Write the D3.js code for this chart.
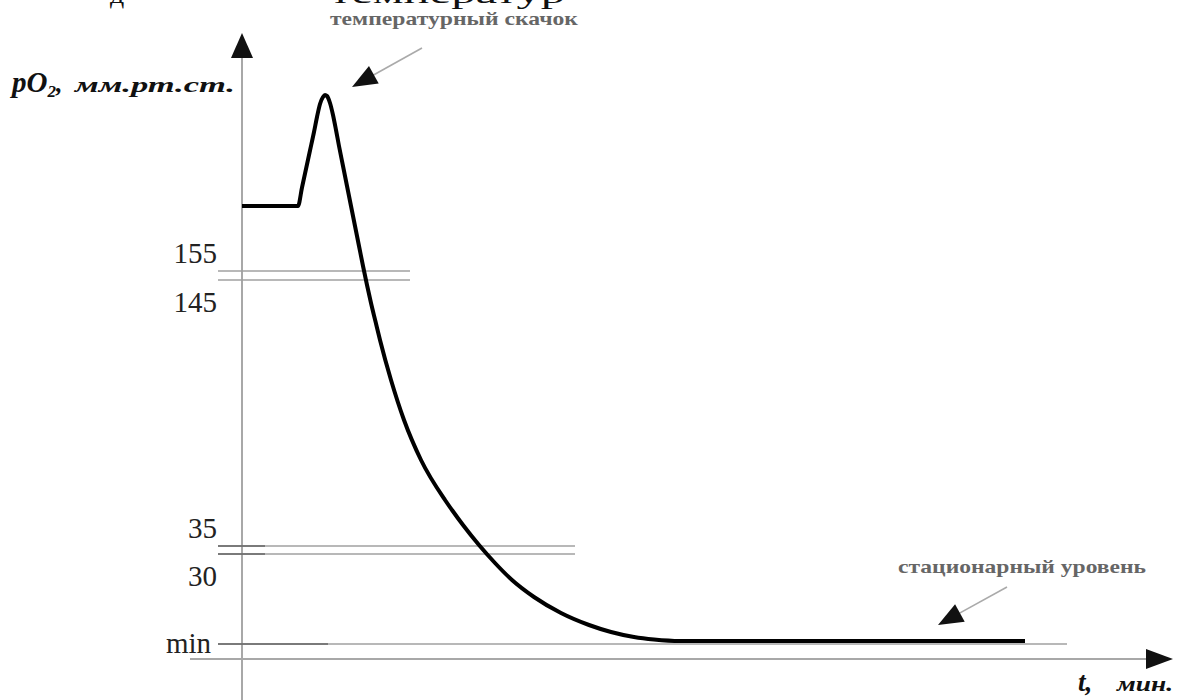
<!DOCTYPE html>
<html>
<head>
<meta charset="utf-8">
<script src="https://cdn.jsdelivr.net/npm/d3@7"></script>
<style>
	body { margin:0; background:#fff; }
	svg { display:block; font-family:"Liberation Serif","DejaVu Serif",serif; }
</style>
</head>
<body>
<svg id="chart-1" width="1177" height="700"></svg>
<script>
// Curve pO2(t) in relative units (schematic chart: no numeric scale on the axes)
const timeValues = [0, 5.6, 6.0, 6.4, 6.8, 7.2, 7.5, 7.8, 8.1, 8.3, 8.5, 8.8, 9.1, 9.4, 9.7, 10.1, 10.5, 10.9, 11.3, 11.7, 12.1,
	12.5, 12.9, 13.35, 13.8, 14.9, 16.2, 17.9, 20.3, 21.0, 22.1, 23.7, 25.3, 27.0, 29.2, 31.9, 34.7, 36.9, 39.2, 41.2, 43.8, 78.3];
const po2Values = [90.6, 90.6, 94.3, 98.0, 101.7, 105.4, 108.4, 111.0, 112.4, 112.8, 112.6, 111.2, 108.8, 105.8, 102.6, 98.6, 94.6, 90.6, 86.6, 82.6, 78.6,
	74.8, 71.2, 67.5, 63.8, 55.8, 47.8, 39.8, 31.8, 29.8, 26.8, 22.8, 19.2, 15.8, 12.4, 9.2, 6.8, 5.4, 4.4, 3.9, 3.6, 3.6];

// Reference levels (double lines) and their labels
const refLabels = ['155', '145', '35', '30', 'min'];
const refLevels = [77.6, 75.8, 22.6, 21.0, 3.0];
const refEnds   = [16.8, 16.8, 33.3, 33.3, 82.5];
const refStubEnds = [0, 0, 2.3, 2.3, 8.6];   // darker part at the start of a line

// Annotations: text + arrow (from -> to), in chart units
const noteTexts   = ['температурный скачок', 'стационарный уровень'];
const noteFrom    = [[18.0, 122.2], [76.5, 14.4]];
const noteTo      = [[11.0, 114.4], [69.6, 6.8]];
const noteTextPos = [[8.8, 126.8], [65.6, 17.2]];

const width = 1177, height = 700;
const svg = d3.select('svg#chart-1');

const x = d3.scaleLinear().domain([0, 93]).range([242, 1172]);
const y = d3.scaleLinear().domain([0, 112.8]).range([659, 95]);

const axisColor = '#a8a8a8';

// filled triangle head pointing along (x1,y1)->(x2,y2)
function arrowHead(g, x1, y1, x2, y2, len, half) {
	const a = Math.atan2(y2 - y1, x2 - x1);
	const bx = x2 - len * Math.cos(a), by = y2 - len * Math.sin(a);
	const px = -Math.sin(a) * half, py = Math.cos(a) * half;
	g.append('path')
		.attr('d', `M${x2},${y2}L${bx + px},${by + py}L${bx - px},${by - py}Z`)
		.attr('fill', '#111');
}

// --- axes ---
const axes = svg.append('g');
const yTop = 33, xRight = 1173;
axes.append('line')
	.attr('x1', x(0)).attr('x2', x(0))
	.attr('y1', yTop + 20).attr('y2', height)
	.attr('stroke', axisColor).attr('stroke-width', 2);
arrowHead(axes, x(0), yTop + 50, x(0), yTop, 25, 11);

axes.append('line')
	.attr('x1', 190).attr('x2', xRight - 20)
	.attr('y1', y(0)).attr('y2', y(0))
	.attr('stroke', axisColor).attr('stroke-width', 2);
arrowHead(axes, xRight - 50, y(0), xRight, y(0), 27, 10);

// --- reference lines ---
const refs = svg.append('g');
refLevels.forEach((lv, i) => {
	refs.append('line')
		.attr('x1', x(0) - 24).attr('x2', x(refEnds[i]))
		.attr('y1', y(lv)).attr('y2', y(lv))
		.attr('stroke', '#a0a0a0').attr('stroke-width', 1.6);
	if (refStubEnds[i] > 0) {
		refs.append('line')
			.attr('x1', x(0) - 24).attr('x2', x(refStubEnds[i]))
			.attr('y1', y(lv)).attr('y2', y(lv))
			.attr('stroke', '#666').attr('stroke-width', 1.6);
	}
	// upper line of a pair: label above, lower line: label below
	let dy = (i % 2 === 0) ? -8 : 32;
	if (refLabels[i] === 'min') dy = 9;
	refs.append('text')
		.attr('x', refLabels[i] === 'min' ? x(0) - 31 : x(0) - 25)
		.attr('y', y(lv) + dy)
		.attr('text-anchor', 'end')
		.attr('font-size', 29)
		.attr('fill', '#222')
		.text(refLabels[i]);
});

// --- the pO2 curve ---
const curve = d3.line()
	.x((d, i) => x(timeValues[i]))
	.y(d => y(d))
	.curve(d3.curveMonotoneX);

svg.append('path')
	.datum(po2Values)
	.attr('d', curve)
	.attr('fill', 'none')
	.attr('stroke', '#000')
	.attr('stroke-width', 4)
	.attr('stroke-linejoin', 'round');

// --- annotations ---
const notes = svg.append('g');
noteTexts.forEach((t, i) => {
	const [fx, fy] = noteFrom[i], [tx, ty] = noteTo[i];
	const a = Math.atan2(y(ty) - y(fy), x(tx) - x(fx));
	notes.append('line')
		.attr('x1', x(fx)).attr('y1', y(fy))
		.attr('x2', x(tx) - 20 * Math.cos(a)).attr('y2', y(ty) - 20 * Math.sin(a))
		.attr('stroke', '#aaa').attr('stroke-width', 1.6);
	arrowHead(notes, x(fx), y(fy), x(tx), y(ty), 25, 10);
	notes.append('text')
		.attr('x', x(noteTextPos[i][0]))
		.attr('y', y(noteTextPos[i][1]))
		.attr('font-size', 19)
		.attr('font-weight', 'bold')
		.attr('fill', '#666')
		.attr('textLength', 248)
		.attr('lengthAdjust', 'spacingAndGlyphs')
		.text(t);
});

// --- axis titles ---
const yTitle = svg.append('text')
	.attr('x', 12).attr('y', 92)
	.attr('font-weight', 'bold').attr('font-style', 'italic')
	.attr('fill', '#111');
yTitle.append('tspan').attr('font-size', 29).text('pO');
yTitle.append('tspan').attr('font-size', 17).attr('dy', 5).text('2');
yTitle.append('tspan').attr('font-size', 26).attr('dy', -5).text(',');
yTitle.append('tspan').attr('x', 75).attr('font-size', 21)
	.attr('textLength', 160).attr('lengthAdjust', 'spacingAndGlyphs').text('мм.рт.ст.');

const xTitle = svg.append('text')
	.attr('x', 1078).attr('y', 691)
	.attr('font-weight', 'bold').attr('font-style', 'italic')
	.attr('fill', '#111');
xTitle.append('tspan').attr('font-size', 27).text('t,');
xTitle.append('tspan').attr('x', 1117).attr('font-size', 20)
	.attr('textLength', 56).attr('lengthAdjust', 'spacingAndGlyphs').text('мин.');

// cropped line of body text above the figure (only its lower part is visible)
const topLine = svg.append('g').attr('font-size', 28).attr('fill', '#111');
topLine.append('text').attr('x', 110).attr('y', 3).text('д');
topLine.append('text').attr('x', 330).attr('y', 3)
	.attr('textLength', 235).attr('lengthAdjust', 'spacingAndGlyphs')
	.text('температур');
</script>
</body>
</html>
